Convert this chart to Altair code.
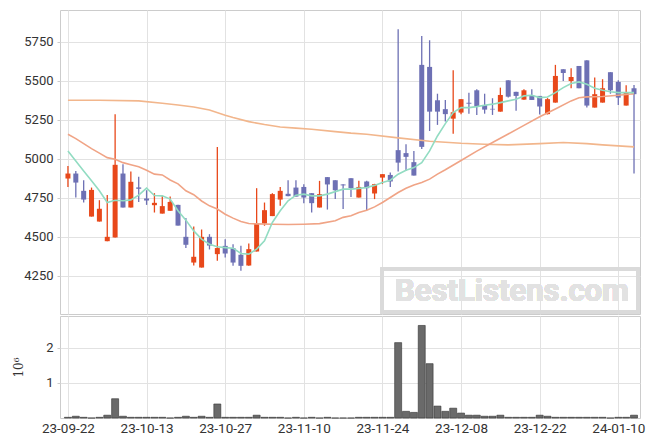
import altair as alt
import pandas as pd

# ---- data (Korean trading days, index 0 = 23-09-22) ----
idx = list(range(73))
opens = [4874, 4906, 4795, 4630, 4598, 4472, 4496, 4906, 4688, 4817,
         4746, 4703, 4649, 4667, 4705, 4500, 4335, 4303, 4500, 4389,
         4442, 4427, 4385, 4316, 4406, 4585, 4633, 4739, 4776, 4816,
         4820, 4780, 4688, 4883, 4863, 4836, 4876, 4752, 4855, 4778,
         4880, 4897, 5056, 5037, 4979, 5603, 5590, 5376, 5319, 5258,
         5297, 5360, 5440, 5346, 5321, 5303, 5504, 5430, 5380, 5408,
         5404, 5287, 5361, 5575, 5500, 5596, 5632, 5329, 5361, 5556,
         5494, 5342, 5453]
highs = [4955, 4923, 4863, 4816, 4735, 4769, 5287, 4966, 4919, 4885,
         4799, 4780, 4763, 4758, 4705, 4620, 4567, 4547, 4517, 5077,
         4485, 4453, 4442, 4457, 4812, 4720, 4780, 4820, 4863, 4863,
         4838, 4780, 4859, 4883, 4863, 4838, 4876, 4859, 4859, 4840,
         4902, 4912, 5831, 5094, 5051, 5788, 5761, 5418, 5378, 5569,
         5383, 5425, 5447, 5418, 5389, 5457, 5504, 5430, 5447, 5447,
         5404, 5390, 5603, 5575, 5581, 5596, 5632, 5522, 5511, 5556,
         5504, 5472, 5474]
lows = [4820, 4752, 4720, 4630, 4598, 4472, 4496, 4688, 4688, 4724,
        4705, 4656, 4649, 4667, 4572, 4428, 4316, 4303, 4419, 4346,
        4367, 4314, 4282, 4314, 4406, 4571, 4633, 4699, 4761, 4758,
        4716, 4656, 4688, 4675, 4742, 4678, 4756, 4752, 4671, 4742,
        4838, 4820, 4919, 4923, 4893, 5064, 5179, 5218, 5239, 5162,
        5287, 5290, 5282, 5290, 5282, 5303, 5393, 5308, 5380, 5378,
        5285, 5285, 5361, 5500, 5453, 5453, 5329, 5329, 5361, 5418,
        5346, 5342, 4906]
closes = [4906, 4848, 4739, 4801, 4680, 4500, 4962, 4688, 4853, 4808,
          4733, 4718, 4697, 4724, 4572, 4449, 4372, 4500, 4444, 4428,
          4393, 4335, 4314, 4421, 4585, 4671, 4774, 4795, 4761, 4758,
          4752, 4716, 4774, 4836, 4799, 4830, 4812, 4820, 4812, 4838,
          4902, 4855, 4976, 5013, 4893, 5077, 5303, 5303, 5287, 5299,
          5383, 5354, 5338, 5316, 5317, 5410, 5399, 5404, 5440, 5378,
          5336, 5383, 5532, 5551, 5526, 5453, 5342, 5415, 5453, 5440,
          5393, 5425, 5415]
volumes = [0.02, 0.05, 0.02, 0.0, 0.02, 0.08, 0.55, 0.05, 0.02, 0.02,
           0.02, 0.02, 0.02, 0.0, 0.02, 0.05, 0.02, 0.05, 0.02, 0.40,
           0.02, 0.02, 0.02, 0.02, 0.08, 0.02, 0.02, 0.02, 0.0, 0.02,
           0.0, 0.02, 0.0, 0.02, 0.0, 0.0, 0.0, 0.02, 0.02, 0.02,
           0.02, 0.02, 2.15, 0.19, 0.16, 2.64, 1.55, 0.34, 0.19, 0.28,
           0.14, 0.08, 0.08, 0.05, 0.05, 0.08, 0.02, 0.02, 0.02, 0.02,
           0.08, 0.05, 0.02, 0.02, 0.02, 0.02, 0.02, 0.02, 0.02, 0.0,
           0.02, 0.02, 0.08]
ma5 = [5051, 4987, 4923, 4859, 4795, 4720, 4735, 4731, 4737, 4767,
       4812, 4765, 4763, 4742, 4667, 4607, 4538, 4485, 4453, 4436,
       4431, 4427, 4393, 4389, 4421, 4474, 4592, 4667, 4731, 4767,
       4774, 4763, 4763, 4774, 4790, 4806, 4806, 4811, 4816, 4830,
       4848, 4863, 4902, 4927, 4944, 4976, 5051, 5147, 5226, 5297,
       5329, 5329, 5335, 5344, 5351, 5361, 5372, 5383, 5404, 5408,
       5393, 5397, 5425, 5457, 5483, 5494, 5479, 5453, 5440, 5431,
       5425, 5425, 5425]
ma20_idx = [0, 1, 2, 3, 4, 5, 6, 7, 8, 9, 10, 11, 12, 13, 14, 15, 16, 17, 18, 19,
            20, 21, 22, 23, 24, 26, 28, 30, 32, 34, 35, 36, 37, 38, 39, 40, 41, 42,
            43, 44, 45, 46, 47, 48, 50, 52, 54, 56, 58, 60, 62, 64, 65, 66, 68, 70, 72]
ma20_val = [5158, 5130, 5098, 5066, 5037, 5008, 4998, 4976, 4962, 4949, 4927, 4902,
            4897, 4865, 4840, 4795, 4770, 4730, 4699, 4678, 4645, 4620, 4598, 4585,
            4583, 4581, 4579, 4581, 4585, 4603, 4625, 4635, 4656, 4671, 4692, 4720,
            4752, 4784, 4812, 4833, 4848, 4870, 4902, 4930, 4990, 5050, 5105, 5160,
            5215, 5270, 5320, 5372, 5392, 5398, 5400, 5408, 5418]
ma60_idx = [0, 4, 9, 12, 14, 16, 18, 20, 21, 23, 25, 27, 29, 31, 34, 36, 38, 42, 46,
            50, 53, 56, 60, 63, 66, 68, 72]
ma60_val = [5376, 5376, 5372, 5357, 5346, 5333, 5313, 5280, 5265, 5239, 5220, 5205,
            5197, 5190, 5175, 5165, 5158, 5135, 5113, 5100, 5094, 5090, 5098, 5105,
            5098, 5090, 5077]
tick_pos = [0, 10, 20, 30, 40, 50, 60, 70]
tick_labels = ["23-09-22", "23-10-13", "23-10-27", "23-11-10",
               "23-11-24", "23-12-08", "23-12-22", "24-01-10"]

RED = "#e8481a"
BLUE = "#6d70b4"
FONT = "Roboto"

df = pd.DataFrame({"i": idx, "open": opens, "high": highs, "low": lows,
                   "close": closes, "vol": volumes, "ma5": ma5})
df20 = pd.DataFrame({"i": ma20_idx, "v": ma20_val})
df60 = pd.DataFrame({"i": ma60_idx, "v": ma60_val})

xscale = alt.Scale(domain=[-0.375, 72.125], nice=False, zero=False)
label_expr = "[" + ",".join(f"'{t}'" for t in tick_labels) + "][round(datum.value/10)]"

color_cond = alt.condition("datum.close >= datum.open", alt.value(RED), alt.value(BLUE))

x_top = alt.X("i:Q", scale=xscale,
              axis=alt.Axis(values=tick_pos, labels=False, ticks=False, domain=False,
                            grid=True, title=None))
y_top = alt.Y("low:Q", scale=alt.Scale(domain=[4005, 5955], nice=False, zero=False),
              axis=alt.Axis(values=[4250, 4500, 4750, 5000, 5250, 5500, 5750],
                            format="d", title=None, grid=True, domain=False,
                            tickSize=3, labelPadding=4))

base = alt.Chart(df)
wicks = base.mark_rule(strokeWidth=1.3).encode(x=x_top, y=y_top, y2="high:Q", color=color_cond)
bodies = base.mark_bar(size=5).encode(x=x_top, y=alt.Y("open:Q"), y2="close:Q", color=color_cond)
line60 = alt.Chart(df60).mark_line(color="#f2b68c", strokeWidth=1.6).encode(
    x=alt.X("i:Q"), y=alt.Y("v:Q"))
line20 = alt.Chart(df20).mark_line(color="#f0a486", strokeWidth=1.6).encode(
    x=alt.X("i:Q"), y=alt.Y("v:Q"))
line5 = base.mark_line(color="#92dcc2", strokeWidth=1.6).encode(
    x=alt.X("i:Q"), y=alt.Y("ma5:Q"))

wm_box = alt.Chart(df).mark_rect(fill="white", fillOpacity=0.0, stroke="#dadada",
                                 strokeWidth=3).encode(
    x=alt.value(322), x2=alt.value(578), y=alt.value(259), y2=alt.value(302))
wm_text = alt.Chart(df).mark_text(text="BestListens.com", font=FONT, fontSize=31,
                                  fontWeight="bold", color="#e2e2e2").encode(
    x=alt.value(452), y=alt.value(282))

top = alt.layer(wicks, bodies, line60, line20, line5, wm_box, wm_text).properties(
    width=580, height=304)

x_bot = alt.X("i:Q", scale=xscale,
              axis=alt.Axis(values=tick_pos, labelExpr=label_expr, ticks=False,
                            domain=False, grid=True, title=None, labelPadding=3,
                            labelFontSize=13.5))
vol = alt.Chart(df).mark_bar(size=7, color="#6a6a6a", stroke="#333333",
                             strokeWidth=0.6).encode(
    x=x_bot,
    y=alt.Y("vol:Q", scale=alt.Scale(domain=[0, 2.91], nice=False),
            axis=alt.Axis(values=[1, 2], title="10⁶", grid=True, domain=False,
                          tickSize=3, labelPadding=4, titlePadding=20,
                          titleFontWeight="normal", titleFontSize=12,
                          titleFont="DejaVu Serif"))
).properties(width=580, height=102)

chart = alt.vconcat(top, vol, spacing=0).properties(
    padding={"left": 4, "top": 1, "right": 5, "bottom": 5}
).configure_view(stroke="#cccccc").configure_axis(
    gridColor="#e2e2e2", labelColor="#333333", labelFont=FONT, labelFontSize=13,
    tickColor="#cccccc", titleColor="#333333"
)

chart.save("out.html", embed_options={"renderer": "svg", "actions": False})
